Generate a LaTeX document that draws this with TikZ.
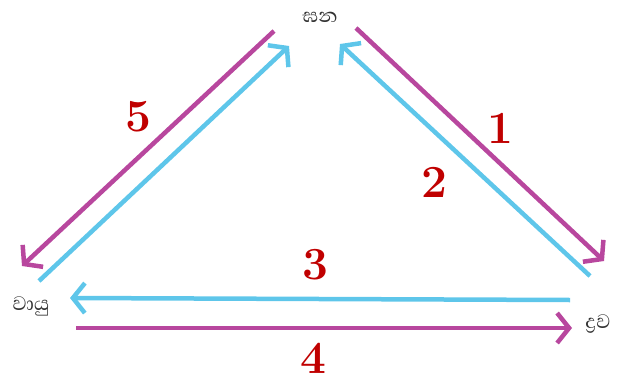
\documentclass[tikz,border=0pt]{standalone}
\usepackage{fontspec}
\newfontfamily\sinhalafont[Script=Sinhala]{Abhaya Libre}
\usetikzlibrary{arrows.meta}
\definecolor{mag}{HTML}{B8479E}
\definecolor{cya}{HTML}{5EC6EA}
\definecolor{numred}{HTML}{C00000}
\tikzset{
  magline/.style={draw=mag, line width=4.5pt, -{Straight Barb[length=12pt,width=30pt,line width=4.5pt]}},
  cyaline/.style={draw=cya, line width=4.5pt, -{Straight Barb[length=12pt,width=30pt,line width=4.5pt]}},
  phase/.style={font=\sinhalafont\fontsize{25}{25}\selectfont, text=black!80, inner sep=0pt},
  num/.style={font=\fontsize{46}{46}\selectfont\bfseries, text=numred, inner sep=0pt}
}
\begin{document}
\begin{tikzpicture}[x=1pt,y=-1pt]
\useasboundingbox (0,0) rectangle (617,385);
% phase labels
\node[phase] (solid) at (320,17) {ඝන};
\node[phase] (gas) at (31,306) {වායු};
\node[phase] (liquid) at (598,324) {ද්‍රව};
% endpoints
\coordinate (m1s) at (356,28);   \coordinate (m1e) at (604,261);
\coordinate (c2s) at (590,276);  \coordinate (c2e) at (340,44);
\coordinate (c3s) at (570,300);  \coordinate (c3e) at (70,298);
\coordinate (m4s) at (76,328);   \coordinate (m4e) at (572,328);
\coordinate (m5s) at (274,31);   \coordinate (m5e) at (22,266);
\coordinate (c6s) at (39,281);   \coordinate (c6e) at (289,46);
% arrows
\draw[magline] (m1s) -- (m1e);
\draw[cyaline] (c2s) -- (c2e);
\draw[cyaline] (c3s) -- (c3e);
\draw[magline] (m4s) -- (m4e);
\draw[magline] (m5s) -- (m5e);
\draw[cyaline] (c6s) -- (c6e);
% numbers
\node[num] (n1) at (500,128) {1};
\node[num] (n2) at (434,182) {2};
\node[num] (n3) at (315,265) {3};
\node[num] (n4) at (313,358) {4};
\node[num] (n5) at (138,117) {5};
\end{tikzpicture}
\end{document}
